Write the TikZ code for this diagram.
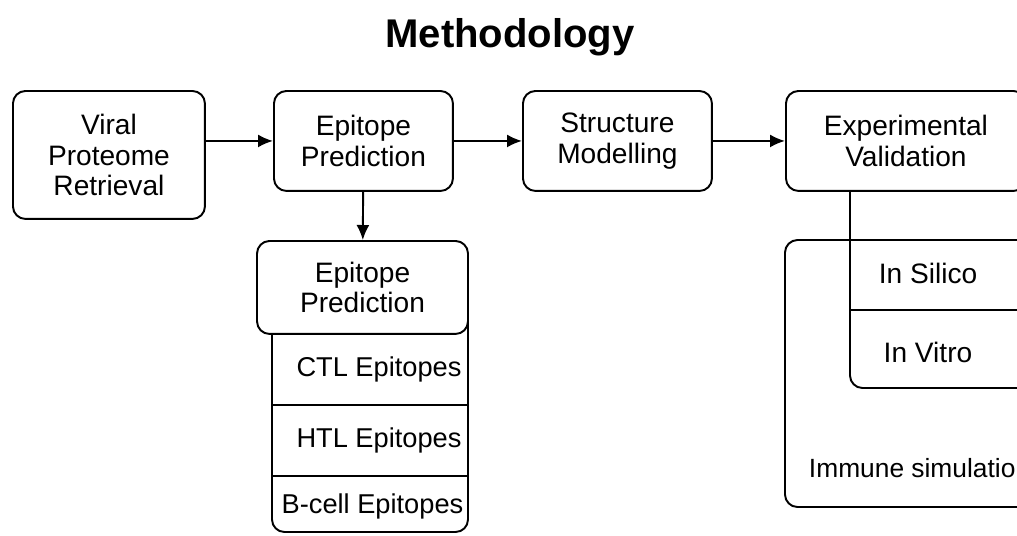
\documentclass[tikz,border=0pt]{standalone}
\usepackage{fontspec}
\setmainfont{Liberation Sans}
\usetikzlibrary{arrows.meta,positioning}

\begin{document}
\begin{tikzpicture}[x=0.02cm, y=-0.02cm, line width=1.1pt,
    >={Latex[length=0.3cm,width=0.26cm]},
    font=\fontsize{16}{17.6}\selectfont,
    box/.style={draw, rounded corners=0.25cm, minimum height=2cm, align=center, fill=white},
    cell/.style={minimum width=3.92cm, inner sep=0pt, font=\fontsize{15.5}{17.5}\selectfont}]
\clip (0,0) rectangle (1017,535);
\node[font=\fontsize{22.8}{26}\selectfont\bfseries] (title) at (510,37) {Methodology};

% main pipeline
\node[box, anchor=north west, minimum width=3.84cm, minimum height=2.56cm] (retr) at (12,90) {Viral\\Proteome\\Retrieval};
\node[box, anchor=north west, minimum width=3.58cm] (pred) at (273,90) {Epitope\\Prediction};
\node[box, anchor=north west, minimum width=3.78cm] (model) at (522,90) {Structure\\Modelling};
\node[box, anchor=north west, minimum width=4.8cm] (valid) at (785,90) {Experimental\\Validation};
\draw[->] (retr.east |- pred) -- (pred);
\draw[->] (pred) -- (model);
\draw[->] (model) -- (valid);

% epitope stack
\draw[rounded corners=0.25cm] (272,300) rectangle (468,532);
\node[box, anchor=north, minimum width=4.22cm, minimum height=1.86cm] (pred2) at (362.5,240) {Epitope\\Prediction};
\draw[->] (pred) -- (pred2);
\node[cell, anchor=north, minimum height=1.4cm] (ctl) at (370,333) {\hspace{0.36cm}CTL Epitopes};
\node[cell, below=0pt of ctl, minimum height=1.38cm] (htl) {\hspace{0.36cm}HTL Epitopes};
\node[cell, below=0pt of htl, minimum height=1.2cm] (bcell) {\hspace{0.1cm}B-cell Epitopes};
\draw (ctl.south west) -- (ctl.south east);
\draw (htl.south west) -- (htl.south east);

% validation branch
\draw[rounded corners=0.25cm] (785,240) rectangle (1040,507);
\coordinate (vfork) at (850,190);
\draw[rounded corners=0.25cm] (valid.south west -| vfork) -- (850,388) -- (1040,388);
\draw (850,310) -- (1040,310);
\node (silico) at (928,273) {In Silico};
\node (vitro) at (928,352) {In Vitro};
\node[anchor=west, inner sep=0pt, font=\fontsize{15}{17}\selectfont] (immune) at (808,468) {Immune simulation};
\end{tikzpicture}
\end{document}
